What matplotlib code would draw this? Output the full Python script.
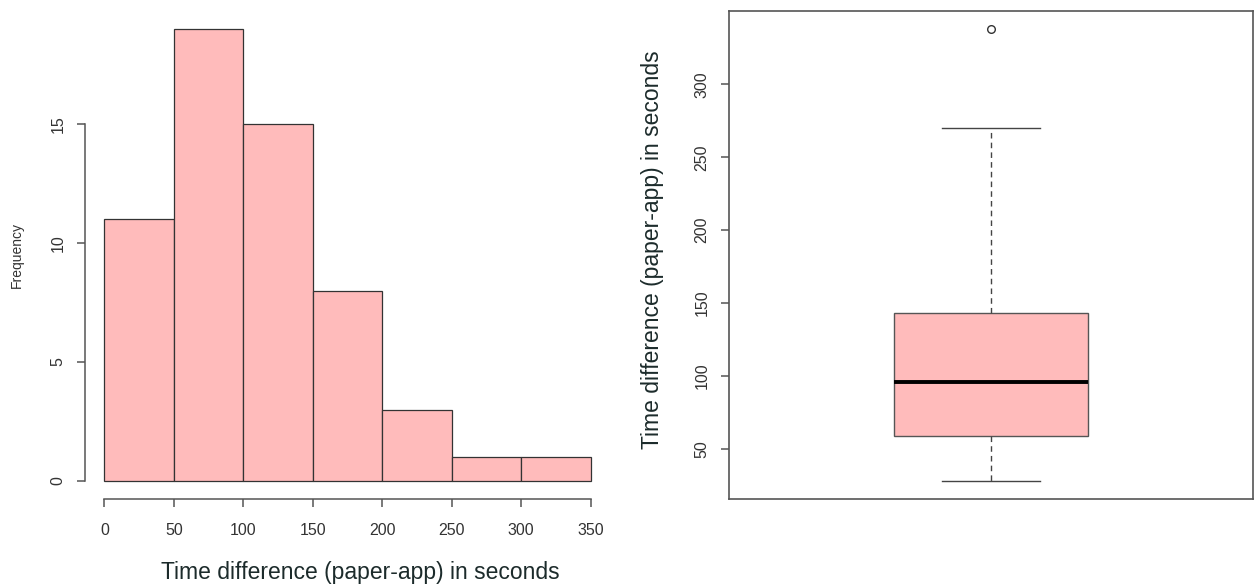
import matplotlib
matplotlib.use('Agg')
import matplotlib.pyplot as plt

# histogram of the time differences
bin_edges = [0, 50, 100, 150, 200, 250, 300, 350]
counts = [11, 19, 15, 8, 3, 1, 1]
x_ticks = [0, 50, 100, 150, 200, 250, 300, 350]
y_ticks = [0, 5, 10, 15]

# boxplot summary
box_med = 96
box_q1 = 59
box_q3 = 143
whisker_low = 28
whisker_high = 270
outliers = [338]
box_ticks = [50, 100, 150, 200, 250, 300]

label_text = 'Time difference (paper-app) in seconds'
fill = '#ffbbbb'
edge = '#333333'
axis_col = '#555555'
tick_col = '#333333'
label_col = '#1c2b2b'

plt.rcParams['font.family'] = ['Liberation Sans', 'DejaVu Sans']

fig = plt.figure(figsize=(12.6, 5.88), dpi=100)
ax1 = fig.add_axes([85 / 1260, 1 - 499 / 588, 525 / 1260, 488 / 588])
ax2 = fig.add_axes([729 / 1260, 1 - 499 / 588, 524 / 1260, 488 / 588])

# --- left: histogram ---
widths = [bin_edges[i + 1] - bin_edges[i] for i in range(len(counts))]
ax1.bar(bin_edges[:-1], counts, width=widths, align='edge',
        color=fill, edgecolor=edge, linewidth=0.9)
ax1.set_xlim(-14, 364)
ax1.set_ylim(-0.76, 19.76)
for s in ['top', 'right']:
    ax1.spines[s].set_visible(False)
ax1.spines['left'].set_bounds(0, 15)
ax1.spines['bottom'].set_bounds(0, 350)
for s in ['left', 'bottom']:
    ax1.spines[s].set_color(axis_col)
    ax1.spines[s].set_linewidth(1.1)
ax1.set_xticks(x_ticks)
ax1.set_yticks(y_ticks)
ax1.set_yticklabels([str(v) for v in y_ticks], rotation=90, va='center')
ax1.tick_params(axis='both', length=6, width=1.1, color=axis_col,
                labelcolor=tick_col, labelsize=11.5)
ax1.tick_params(axis='x', pad=11)
ax1.tick_params(axis='y', pad=8)
ax1.set_xlabel(label_text, fontsize=16.5, color=label_col)
ax1.xaxis.set_label_coords(0.524, -0.128)
ax1.set_ylabel('Frequency', fontsize=10, color=tick_col)
ax1.yaxis.set_label_coords(-0.116, 0.5)

# --- right: boxplot ---
stats = [{'med': box_med, 'q1': box_q1, 'q3': box_q3,
          'whislo': whisker_low, 'whishi': whisker_high,
          'fliers': outliers}]
ax2.bxp(stats, positions=[1], widths=0.372, patch_artist=True,
        boxprops=dict(facecolor=fill, edgecolor='#555555', linewidth=1.0),
        medianprops=dict(color='black', linewidth=2.8),
        whiskerprops=dict(color='#444444', linewidth=1.0, linestyle=(0, (4, 3))),
        capprops=dict(color='#444444', linewidth=1.0),
        capwidths=0.186,
        flierprops=dict(marker='o', markersize=5.5, markerfacecolor='none',
                        markeredgecolor='#333333', markeredgewidth=1.0))
ax2.set_xlim(0.5, 1.5)
ax2.set_ylim(15.6, 350.4)
ax2.set_xticks([])
ax2.set_yticks(box_ticks)
ax2.set_yticklabels([str(v) for v in box_ticks], rotation=90, va='center')
ax2.tick_params(axis='y', length=6, width=1.1, color=axis_col,
                labelcolor=tick_col, labelsize=11.5, pad=8)
for s in ax2.spines.values():
    s.set_color(axis_col)
    s.set_linewidth(1.2)
ax2.set_ylabel(label_text, fontsize=16.5, color=label_col)
ax2.yaxis.set_label_coords(-0.125, 0.51)

fig.savefig('out.png', dpi=100)
